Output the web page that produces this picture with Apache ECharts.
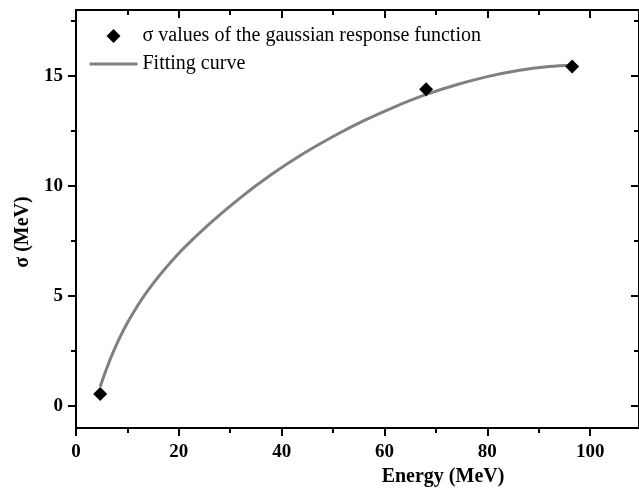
<!DOCTYPE html>
<html>
<head>
<meta charset="utf-8">
<script src="https://cdn.jsdelivr.net/npm/echarts@6/dist/echarts.min.js"></script>
<style>
html,body{margin:0;padding:0;background:#fff;}
#chart{width:639px;height:491px;}
</style>
</head>
<body>
<div id="chart"></div>
<script>
// Data
var pointEnergy = [4.7, 68.1, 96.5];
var pointSigma = [0.55, 14.4, 15.43];

var curveEnergy = [4.7, 7, 10, 14, 20, 26, 32, 38, 44, 50, 56, 62, 68, 74, 80, 86, 92, 97];
var curveSigma = [0.88, 2.32, 3.78, 5.26, 6.94, 8.29, 9.475, 10.52, 11.44, 12.25, 12.97, 13.6, 14.15, 14.6, 14.97, 15.25, 15.43, 15.5];

var xMajorTicks = [0, 20, 40, 60, 80, 100];
var xMinorTicks = [10, 30, 50, 70, 90];
var yMajorTicks = [0, 5, 10, 15];
var yMinorTicks = [2.5, 7.5, 12.5, 17.5];

var seriesNames = ['\u03c3 values of the gaussian response function', 'Fitting curve'];
var xTitle = 'Energy (MeV)';
var yTitle = '\u03c3 (MeV)';

var X_MIN = 0, X_MAX = 109.5, Y_MIN = -1, Y_MAX = 18;
var FONT = '"Liberation Serif", "Times New Roman", serif';

function zip(a, b) { return a.map(function (v, i) { return [v, b[i]]; }); }

function xAxisDef(pos, ticks, len, inside, showLine, showLabel) {
  return {
    type: 'value', position: pos, min: X_MIN, max: X_MAX,
    axisLine: { show: showLine, onZero: false, lineStyle: { color: '#000', width: 2 } },
    axisTick: { show: true, customValues: ticks, length: len, inside: inside, lineStyle: { color: '#000', width: 2 } },
    axisLabel: { show: showLabel, customValues: ticks, margin: 15, color: '#000', fontFamily: FONT, fontWeight: 'bold', fontSize: 19 },
    splitLine: { show: false }
  };
}
function yAxisDef(pos, ticks, len, inside, showLine, showLabel) {
  return {
    type: 'value', position: pos, min: Y_MIN, max: Y_MAX,
    axisLine: { show: showLine, onZero: false, lineStyle: { color: '#000', width: 2 } },
    axisTick: { show: true, customValues: ticks, length: len, inside: inside, lineStyle: { color: '#000', width: 2 } },
    axisLabel: { show: showLabel, customValues: ticks, margin: 13, color: '#000', fontFamily: FONT, fontWeight: 'bold', fontSize: 19 },
    splitLine: { show: false }
  };
}

var chart = echarts.init(document.getElementById('chart'), null, { renderer: 'canvas' });
chart.setOption({
  animation: false,
  backgroundColor: '#fff',
  grid: { left: 76, top: 10, width: 568, height: 418, containLabel: false },
  xAxis: [
    xAxisDef('bottom', xMajorTicks, 8, false, true, true),
    xAxisDef('bottom', xMinorTicks, 5, false, false, false),
    xAxisDef('top', xMajorTicks, 8, true, true, false),
    xAxisDef('top', xMinorTicks, 5, true, false, false)
  ],
  yAxis: [
    yAxisDef('left', yMajorTicks, 8, false, true, true),
    yAxisDef('left', yMinorTicks, 5, false, false, false),
    yAxisDef('right', yMajorTicks, 8, true, true, false),
    yAxisDef('right', yMinorTicks, 5, true, false, false)
  ],
  legend: {
    orient: 'vertical', left: 88, top: 26, padding: 0,
    itemWidth: 48, itemHeight: 14, itemGap: 8,
    symbolKeepAspect: true,
    textStyle: { fontFamily: FONT, fontSize: 20, color: '#000', lineHeight: 20 },
    data: [
      { name: seriesNames[0], icon: 'path://M7,0L14,7L7,14L0,7Z', itemStyle: { color: '#000', opacity: 1 } },
      { name: seriesNames[1], itemStyle: { opacity: 0 }, lineStyle: { width: 3, color: '#808080' } }
    ]
  },
  graphic: [
    { type: 'text', x: 443, y: 477, style: { text: xTitle, fontFamily: FONT, fontWeight: 'bold', fontSize: 20, fill: '#000', align: 'center', verticalAlign: 'middle' } },
    { type: 'text', x: 23, y: 232, rotation: Math.PI / 2, style: { text: yTitle, fontFamily: FONT, fontWeight: 'bold', fontSize: 20, fill: '#000', align: 'center', verticalAlign: 'middle' } }
  ],
  series: [
    {
      name: seriesNames[1], type: 'line', xAxisIndex: 0, yAxisIndex: 0,
      data: zip(curveEnergy, curveSigma), smooth: 0.3, symbol: 'none',
      lineStyle: { color: '#808080', width: 3 }, itemStyle: { color: '#808080' }, z: 2
    },
    {
      name: seriesNames[0], type: 'scatter', xAxisIndex: 0, yAxisIndex: 0,
      data: zip(pointEnergy, pointSigma), symbol: 'diamond', symbolSize: 14,
      itemStyle: { color: '#000', opacity: 1 }, z: 3
    }
  ]
});
</script>
</body>
</html>
